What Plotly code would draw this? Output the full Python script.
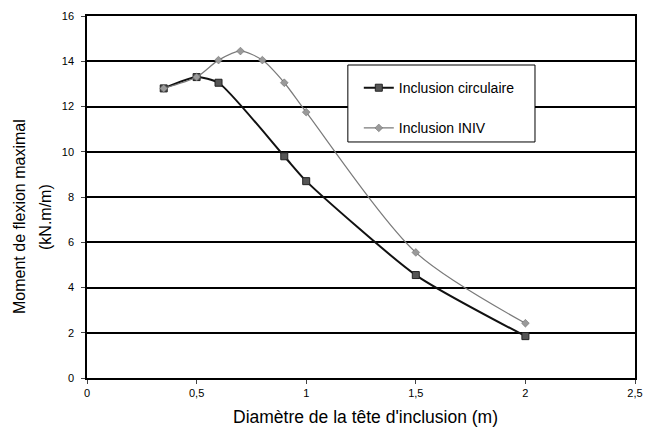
import plotly.graph_objects as go

x_circ = [0.35, 0.5, 0.6, 0.9, 1.0, 1.5, 2.0]
y_circ = [12.8, 13.3, 13.05, 9.8, 8.7, 4.55, 1.85]

x_iniv = [0.35, 0.5, 0.6, 0.7, 0.8, 0.9, 1.0, 1.5, 2.0]
y_iniv = [12.8, 13.3, 14.05, 14.45, 14.05, 13.05, 11.75, 5.55, 2.42]

x_ticks = [0, 0.5, 1, 1.5, 2, 2.5]
y_ticks = [0, 2, 4, 6, 8, 10, 12, 14, 16]

FONT = "Liberation Sans, Arial, sans-serif"

fig = go.Figure()
fig.add_trace(go.Scatter(
    x=x_circ, y=y_circ, name="Inclusion circulaire", mode="lines+markers",
    legendgroup="a",
    line=dict(color="#111111", width=2, shape="spline", smoothing=0.6),
    marker=dict(symbol="square", size=7, color="#555555", line=dict(color="#222", width=1)),
))
fig.add_trace(go.Scatter(
    x=x_iniv, y=y_iniv, name="Inclusion INIV", mode="lines+markers",
    legendgroup="b",
    line=dict(color="#7a7a7a", width=1.2, shape="spline", smoothing=0.8),
    marker=dict(symbol="diamond", size=6, color="#9a9a9a", line=dict(color="#666", width=0.5)),
))

fig.update_layout(
    width=648, height=427,
    margin=dict(l=87, r=13, t=16, b=49, autoexpand=False),
    paper_bgcolor="white", plot_bgcolor="white",
    separators=", ",
    font=dict(family=FONT, color="black", size=11),
    showlegend=True,
    legend=dict(
        x=0.496, y=0.845, xanchor="left", yanchor="top",
        bgcolor="rgba(0,0,0,0)", borderwidth=0,
        font=dict(size=14),
        itemwidth=30, tracegroupgap=19,
    ),
    shapes=[dict(
        type="rect", xref="paper", yref="paper",
        x0=0.476, x1=0.8175, y0=0.652, y1=0.8646,
        fillcolor="white", line=dict(color="black", width=1), layer="above",
    )],
    annotations=[
        dict(text="Diamètre de la tête d'inclusion (m)", xref="paper", yref="paper",
             x=(365 - 87) / 548, y=(378 - 417) / 362, xanchor="center", yanchor="middle",
             showarrow=False, font=dict(size=17.5, family=FONT)),
        dict(text="Moment de flexion maximal", xref="paper", yref="paper",
             x=(19 - 87) / 548, y=(378 - 217) / 362, xanchor="center", yanchor="middle",
             textangle=-90, showarrow=False, font=dict(size=16, family=FONT)),
        dict(text="(kN.m/m)", xref="paper", yref="paper",
             x=(45 - 87) / 548, y=(378 - 217) / 362, xanchor="center", yanchor="middle",
             textangle=-90, showarrow=False, font=dict(size=16, family=FONT)),
    ],
    xaxis=dict(
        range=[0, 2.5], tickvals=x_ticks, ticks="outside", ticklen=4,
        showgrid=False, showline=True, linecolor="black", linewidth=1.5,
        mirror=True, zeroline=False, automargin=False,
    ),
    yaxis=dict(
        range=[0, 16], tickvals=y_ticks, ticks="outside", ticklen=4,
        ticklabelstandoff=5,
        showgrid=True, gridcolor="black", gridwidth=1.5,
        showline=True, linecolor="black", linewidth=1.5, mirror=True, zeroline=False,
        automargin=False,
    ),
)

fig.write_html(
    "out.html",
    config={"displayModeBar": False},
    post_script="document.body.style.margin='0';document.body.style.padding='0';",
)
